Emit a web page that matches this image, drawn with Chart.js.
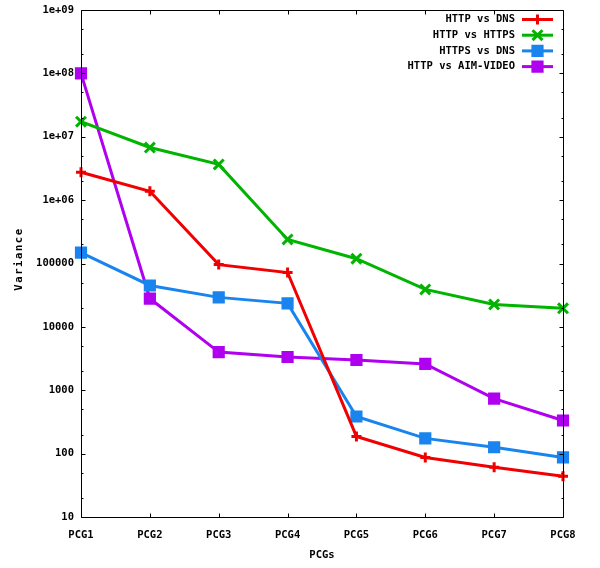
<!DOCTYPE html>
<html>
<head>
<meta charset="utf-8">
<script src="https://cdn.jsdelivr.net/npm/chart.js@4/dist/chart.umd.min.js"></script>
<style>
  html, body { margin: 0; padding: 0; background: #fff; }
  #wrap { width: 600px; height: 568px; }
</style>
</head>
<body>
<div id="wrap"><canvas id="c" width="600" height="568"></canvas></div>
<script>
const categories = ['PCG1', 'PCG2', 'PCG3', 'PCG4', 'PCG5', 'PCG6', 'PCG7', 'PCG8'];
const seriesLabels = ['HTTP vs DNS', 'HTTP vs HTTPS', 'HTTPS vs DNS', 'HTTP vs AIM-VIDEO'];
const httpVsDns = [2.75e6, 1.38e6, 9.6e4, 7.2e4, 187, 87, 61, 44];
const httpVsHttps = [1.73e7, 6.76e6, 3.66e6, 2.4e5, 1.19e5, 3.9e4, 2.26e4, 1.96e4];
const httpsVsDns = [1.48e5, 4.5e4, 2.92e4, 2.35e4, 385, 174, 126, 87];
const httpVsAimVideo = [1e8, 2.8e4, 4000, 3350, 3000, 2600, 736, 333];
const yTickValues = [10, 100, 1000, 10000, 100000, 1e6, 1e7, 1e8, 1e9];
const yTickLabels = ['10', '100', '1000', '10000', '100000', '1e+06', '1e+07', '1e+08', '1e+09'];
const xTitle = 'PCGs';
const yTitle = 'Variance';

const FONT_FAMILY = "'DejaVu Sans Mono', monospace";
const tickFont = { family: FONT_FAMILY, size: 10.5, weight: 'bold' };

const colors = ['#f00000', '#00b400', '#1a84ee', '#b000f0'];
const pointStyles = ['cross', 'crossRot', 'rect', 'rect'];
const pointRadii = [5, 7, 6.5, 6.5];
const seriesData = [httpVsDns, httpVsHttps, httpsVsDns, httpVsAimVideo];

const datasets = seriesData.map((d, i) => ({
  label: seriesLabels[i],
  data: d,
  borderColor: colors[i],
  backgroundColor: colors[i],
  borderWidth: 3,
  pointStyle: pointStyles[i],
  pointRadius: pointRadii[i],
  pointBorderWidth: 3,
  pointBorderColor: colors[i],
  pointBackgroundColor: colors[i],
  tension: 0,
  fill: false,
  clip: false
}));

const framePlugin = {
  id: 'frame',
  afterDraw(chart) {
    const ctx = chart.ctx;
    const a = chart.chartArea;
    const xs = chart.scales.x, ys = chart.scales.y;
    ctx.save();
    ctx.strokeStyle = '#000';
    ctx.lineWidth = 1;
    const L = Math.round(a.left) + 0.5, R = Math.round(a.right) + 0.5;
    const T = Math.round(a.top) + 0.5, B = Math.round(a.bottom) + 0.5;
    ctx.beginPath();
    ctx.rect(L, T, R - L, B - T);
    yTickValues.forEach(v => {
      const y = Math.round(ys.getPixelForValue(v)) + 0.5;
      ctx.moveTo(L, y); ctx.lineTo(L + 4, y);
      ctx.moveTo(R, y); ctx.lineTo(R - 4, y);
      [2, 5].forEach(m => {
        const mv = v * m;
        if (mv < 1e9) {
          const my = Math.round(ys.getPixelForValue(mv)) + 0.5;
          ctx.moveTo(L, my); ctx.lineTo(L + 2, my);
          ctx.moveTo(R, my); ctx.lineTo(R - 2, my);
        }
      });
    });
    categories.forEach((c, i) => {
      const x = Math.round(xs.getPixelForValue(i)) + 0.5;
      ctx.moveTo(x, B); ctx.lineTo(x, B - 4);
      ctx.moveTo(x, T); ctx.lineTo(x, T + 4);
    });
    ctx.stroke();

    ctx.fillStyle = '#000';
    ctx.font = `bold 10.5px ${FONT_FAMILY}`;
    ctx.textAlign = 'center';
    ctx.textBaseline = 'middle';
    ctx.translate(19, 259);
    ctx.rotate(-Math.PI / 2);
    if ('letterSpacing' in ctx) ctx.letterSpacing = '1.6px';
    ctx.fillText(yTitle, 0, 0);
    ctx.restore();

    ctx.save();
    ctx.font = `bold 10.5px ${FONT_FAMILY}`;
    ctx.textAlign = 'right';
    ctx.textBaseline = 'middle';
    chart.data.datasets.forEach((ds, i) => {
      const y = 19.5 + i * 15.7;
      ctx.fillStyle = '#000';
      ctx.fillText(ds.label, 515, y);
      ctx.strokeStyle = ds.borderColor;
      ctx.lineWidth = 3;
      ctx.beginPath();
      ctx.moveTo(522, y); ctx.lineTo(553, y);
      ctx.stroke();
      if (Chart.helpers && Chart.helpers.drawPoint) {
        ctx.fillStyle = ds.backgroundColor;
        ctx.lineWidth = 3;
        Chart.helpers.drawPoint(ctx, {
          pointStyle: ds.pointStyle, radius: ds.pointRadius, rotation: 0, borderWidth: 3
        }, 537.5, y);
      }
    });
    ctx.restore();
  }
};

new Chart(document.getElementById('c'), {
  type: 'line',
  data: { labels: categories, datasets },
  options: {
    responsive: false,
    animation: false,
    events: [],
    layout: { padding: { left: 0, right: 37, top: 7, bottom: 0 } },
    plugins: { legend: { display: false }, tooltip: { enabled: false } },
    scales: {
      x: {
        type: 'category',
        offset: false,
        grid: { display: false, drawTicks: false },
        border: { display: false },
        ticks: { font: tickFont, color: '#000', padding: 12, maxRotation: 0, autoSkip: false },
        title: { display: true, text: xTitle, font: tickFont, color: '#000', padding: { top: 0, bottom: 6 } },
        afterFit: s => { s.height = 51; s.paddingLeft = 0; s.paddingRight = 0; }
      },
      y: {
        type: 'logarithmic',
        min: 10,
        max: 1e9,
        grid: { display: false, drawTicks: false },
        border: { display: false },
        afterBuildTicks: s => { s.ticks = yTickValues.map(v => ({ value: v })); },
        ticks: {
          font: tickFont, color: '#000', padding: 7, autoSkip: false,
          callback: v => { const i = yTickValues.indexOf(v); return i >= 0 ? yTickLabels[i] : ''; }
        },
        afterFit: s => { s.width = 81; s.paddingTop = 0; s.paddingBottom = 0; }
      }
    }
  },
  plugins: [framePlugin]
});
</script>
</body>
</html>
